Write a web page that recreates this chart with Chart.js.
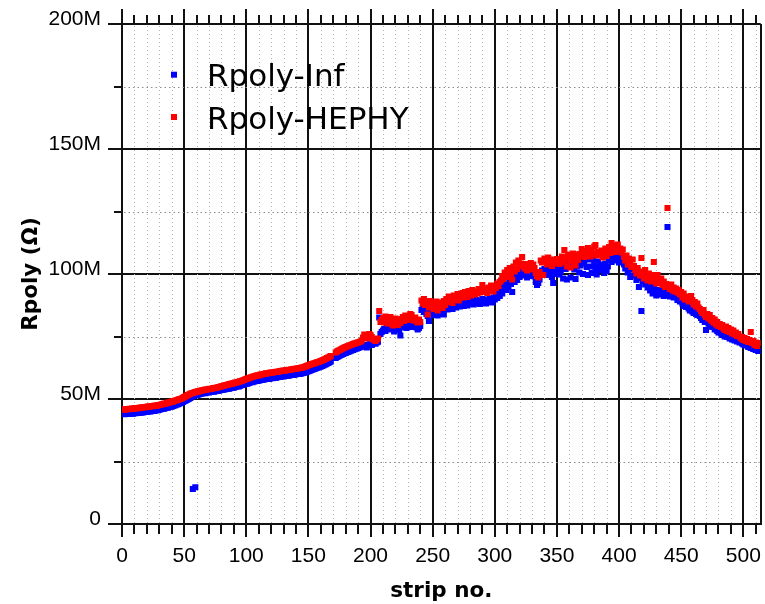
<!DOCTYPE html>
<html>
<head>
<meta charset="utf-8">
<title>Rpoly per strip</title>
<script src="https://cdn.jsdelivr.net/npm/chart.js"></script>
<style>
  html, body { margin: 0; padding: 0; background: #fff; }
  #wrap { width: 765px; height: 604px; }
</style>
</head>
<body>
<div id="wrap"><canvas id="rpolyChart" width="765" height="604"></canvas></div>
<script>
// strip numbers along the sensor
const strips = Array.from({ length: 512 }, (_, i) => i + 1);

// poly resistor values in MOhm, one per strip (null = strip not measured)
const rpolyInf = [
  44.1, 43.9, 44.0, 44.2, 44.0, 44.1, 44.3, 44.2, 44.1, 44.4, 44.3, 44.5, 44.4, 44.6, 44.5, 44.7,
  44.6, 44.8, 44.9, 44.8, 45.0, 45.1, 45.0, 45.2, 45.3, 45.2, 45.4, 45.6, 45.5, 45.7, 45.9, 46.0,
  46.2, 46.1, 46.4, 46.6, 46.5, 46.8, 47.0, 46.9, 47.2, 47.4, 47.5, 47.8, 47.9, 48.1, 48.4, 48.6,
  48.8, 49.1, 49.3, 49.6, 49.9, 50.1, 50.4, 50.8, 14.0, 51.2, 14.7, 51.5, 51.7, 51.9, 52.0, 52.2,
  52.3, 52.4, 52.3, 52.6, 52.7, 52.6, 52.8, 52.9, 53.0, 52.9, 53.1, 53.3, 53.2, 53.4, 53.5, 53.6,
  53.7, 53.8, 53.9, 54.0, 54.2, 54.1, 54.3, 54.5, 54.6, 54.5, 54.8, 55.0, 55.1, 55.0, 55.3, 55.5,
  55.6, 55.8, 56.0, 56.2, 56.1, 56.4, 56.6, 56.8, 56.7, 57.0, 57.1, 57.3, 57.2, 57.4, 57.5, 57.7,
  57.6, 57.8, 57.9, 58.0, 58.1, 58.0, 58.2, 58.4, 58.3, 58.5, 58.6, 58.5, 58.7, 58.8, 58.9, 59.0,
  59.1, 59.0, 59.2, 59.3, 59.4, 59.3, 59.5, 59.6, 59.7, 59.6, 59.8, 59.9, 60.0, 60.1, 60.0, 60.2,
  60.3, 60.4, 60.6, 60.7, 60.9, 61.1, 61.3, 61.5, 61.7, 61.9, 62.0, 62.3, 62.5, 62.6, 62.8, 63.0,
  63.2, 63.4, 63.7, 63.9, 64.2, 64.4, 64.7, 65.0, null, null, null, 66.4, 66.8, 67.0, 67.3, 67.6,
  67.8, 68.0, 68.3, 68.4, 68.7, 68.9, 69.0, 69.3, 69.5, 69.6, 69.9, 70.1, 70.2, 70.4, 70.6, 70.8,
  71.0, 71.3, 71.6, 71.2, 70.6, 71.4, 71.8, 72.0, 71.6, 72.2, 72.4, 72.1, 72.6, 72.9, 82.6, 76.0,
  76.8, 77.4, 78.0, 77.2, 78.4, 79.0, 77.8, 78.6, 79.2, 78.0, 77.0, 78.8, 79.4, 78.2, 77.6, 75.4,
  78.6, 79.2, 80.0, 79.0, 78.4, 79.6, 80.2, 79.4, 78.8, 79.8, 80.4, 79.0, 78.6, 77.8, 78.4, 79.2,
  85.6, 86.2, 84.8, 85.4, 84.0, 83.2, 81.2, 84.6, 85.8, 84.2, 83.6, 85.0, 84.4, 83.4, 85.2, 84.6,
  84.0, 85.6, 83.8, 86.2, 86.8, 85.8, 87.2, 86.4, 87.6, 86.0, 87.0, 88.0, 86.6, 87.4, 88.2, 87.0,
  87.8, 88.4, 87.2, 88.8, 88.0, 87.4, 89.0, 88.2, 88.6, 89.4, 87.8, 88.8, 89.6, 88.4, 89.0, 88.0,
  89.2, 90.0, 88.6, 89.4, 88.2, 89.8, 88.8, 90.2, 89.4, 88.6, 90.6, 89.8, 91.4, 90.4, 92.0, 91.2,
  93.0, 92.2, 94.4, 95.6, 93.6, 96.2, 94.8, 97.4, 96.0, 92.8, 98.2, 96.8, 99.4, 97.6, 100.2, 98.8,
  101.2, 100.0, 102.0, 99.4, 100.8, 98.6, 100.4, 99.8, 101.0, 99.2, 100.6, 99.0, 96.8, 95.6, 96.4, 97.8,
  100.2, 101.4, 99.8, 102.0, 100.8, 99.6, 101.6, 100.4, 102.2, 98.8, 96.4, 100.0, 101.8, 100.6, 102.4, 99.8,
  101.0, 103.2, 98.2, 104.6, 102.0, 97.8, 105.4, 103.6, 98.6, 104.0, 106.2, 101.8, 98.0, 103.0, 105.0, 100.6,
  103.4, 105.2, 100.0, 104.2, 106.4, 102.8, 99.6, 105.8, 103.0, 100.4, 106.8, 104.4, 102.0, 99.8, 105.0, 103.6,
  101.6, 103.8, 102.6, 100.4, 104.2, 101.2, 103.0, 105.6, 107.2, 104.8, 106.6, 108.2, 105.4, 107.6, 106.0, 104.6,
  107.0, 105.2, 106.4, 103.8, 102.2, 104.6, 100.6, 103.4, 98.8, 101.8, 103.0, 99.4, 100.8, 97.6, 99.2, 94.8,
  98.4, 85.2, 97.2, 99.0, 95.8, 97.8, 94.6, 96.6, 93.4, 95.2, 92.2, 94.0, 92.8, 91.4, 93.6, 92.4,
  91.8, 93.2, 92.0, 91.2, 92.6, 91.6, 118.8, 92.2, 91.0, 92.4, 91.4, 90.6, 91.8, 90.8, 89.6, 90.2,
  89.0, 90.0, 88.2, 87.2, 88.6, 86.8, 87.8, 86.2, 85.4, 86.6, 85.0, 84.4, 85.8, 84.0, 83.6, 84.8,
  83.2, 82.4, 81.6, 82.8, 80.8, 77.6, 81.2, 80.2, 79.4, 80.6, 78.8, 79.6, 77.8, 78.6, 77.2, 76.6,
  77.4, 76.2, 75.6, 76.8, 75.0, 76.0, 74.8, 75.4, 74.2, 75.2, 73.8, 74.4, 73.4, 74.6, 73.0, 73.8,
  72.6, 73.4, 72.2, 71.8, 72.8, 71.4, 72.0, 70.8, 71.6, 70.4, 71.2, 70.0, 70.6, 69.6, 70.2, 69.2
];

const rpolyHephy = [
  45.9, 45.7, 45.8, 46.0, 45.9, 46.1, 46.0, 46.2, 46.1, 46.3, 46.2, 46.4, 46.3, 46.5, 46.6, 46.5,
  46.7, 46.8, 46.7, 46.9, 47.0, 46.9, 47.1, 47.2, 47.1, 47.3, 47.4, 47.3, 47.5, 47.6, 47.7, 47.9,
  48.0, 48.2, 48.1, 48.4, 48.6, 48.5, 48.8, 49.0, 48.9, 49.2, 49.4, 49.5, 49.7, 49.9, 50.0, 50.2,
  50.5, 50.8, 51.0, 51.3, 51.6, 51.8, 52.1, 52.3, 52.4, 52.6, 52.8, 52.9, 53.1, 53.0, 53.3, 53.4,
  53.5, 53.6, 53.8, 53.7, 53.9, 54.0, 54.1, 54.0, 54.3, 54.4, 54.5, 54.4, 54.7, 54.8, 54.9, 55.1,
  55.2, 55.3, 55.5, 55.6, 55.7, 55.9, 56.0, 56.2, 56.1, 56.4, 56.6, 56.5, 56.8, 56.9, 57.1, 57.2,
  57.4, 57.6, 57.8, 58.0, 58.2, 58.3, 58.5, 58.7, 58.9, 59.0, 59.2, 59.3, 59.5, 59.4, 59.7, 59.8,
  59.9, 60.0, 60.1, 60.3, 60.2, 60.4, 60.5, 60.6, 60.5, 60.7, 60.8, 60.9, 60.8, 61.0, 61.1, 61.2,
  61.3, 61.4, 61.3, 61.5, 61.6, 61.7, 61.6, 61.8, 61.9, 62.0, 62.1, 62.0, 62.2, 62.3, 62.4, 62.5,
  62.6, 62.7, 62.9, 63.1, 63.3, 63.5, 63.6, 63.9, 64.0, 64.2, 64.3, 64.5, 64.7, 64.8, 65.0, 65.2,
  65.4, 65.6, 65.9, 66.1, 66.4, 66.6, 66.9, 67.2, null, null, null, 68.6, 69.0, 69.3, 69.5, 69.8,
  70.1, 70.3, 70.6, 70.8, 71.0, 71.2, 71.4, 71.6, 71.8, 72.0, 72.2, 72.3, 72.5, 72.6, 72.8, 73.0,
  73.4, 74.6, 75.8, 75.0, 74.2, 75.4, 76.0, 75.6, 74.8, 74.0, 73.6, 73.2, 73.8, 74.2, 85.2, 80.8,
  81.6, 82.4, 80.6, 83.0, 82.0, 80.2, 81.4, 82.8, 80.0, 79.4, 81.2, 82.2, 80.8, 79.6, 81.8, 80.4,
  82.0, 82.8, 81.2, 83.4, 82.4, 81.6, 83.0, 84.0, 83.6, 82.2, 81.4, 82.6, 81.0, 80.6, 81.8, 80.8,
  89.4, 88.2, 90.0, 87.6, 88.8, 83.8, 86.6, 89.2, 87.2, 88.4, 86.0, 87.8, 89.0, 85.4, 88.6, 87.0,
  88.0, 86.4, 89.2, 87.6, 90.0, 88.8, 91.0, 89.6, 90.6, 88.4, 91.4, 89.8, 90.8, 92.0, 89.4, 90.4,
  91.2, 92.4, 90.6, 92.8, 91.6, 90.8, 93.2, 92.0, 91.4, 93.6, 92.6, 91.8, 93.0, 92.2, 94.0, 92.6,
  93.4, 95.6, 92.8, 94.2, 93.6, 92.4, 94.6, 93.2, 95.4, 94.0, 93.0, 95.0, 94.4, 96.2, 95.2, 96.8,
  97.4, 99.2, 98.0, 100.6, 99.4, 101.6, 98.8, 102.4, 100.2, 97.8, 103.0, 101.0, 104.6, 102.0, 105.4, 103.6,
  104.2, 106.8, 103.0, 102.2, 104.0, 101.4, 103.4, 102.6, 104.4, 101.8, 103.8, 102.4, 100.4, 99.2, 98.6, 100.8,
  105.4, 104.6, 99.6, 106.2, 105.0, 103.8, 106.6, 104.4, 105.8, 103.2, 104.2, 105.6, 104.8, 106.0, 105.2, 104.0,
  105.8, 107.0, 104.6, 109.6, 106.4, 103.0, 107.8, 105.2, 102.6, 106.8, 108.2, 104.8, 103.4, 107.4, 105.6, 108.0,
  107.6, 110.0, 108.4, 106.8, 109.2, 107.2, 110.4, 108.8, 107.0, 109.6, 108.0, 111.0, 111.6, 107.4, 109.0, 108.2,
  107.8, 109.4, 106.6, 108.6, 110.2, 107.2, 109.0, 110.8, 108.4, 112.4, 109.8, 111.4, 108.8, 110.6, 111.8, 109.4,
  110.2, 108.6, 109.8, 106.8, 105.4, 107.4, 103.8, 106.2, 104.6, 102.8, 105.8, 103.2, 101.6, 100.2, 102.4, 101.0,
  99.4, 106.4, 100.8, 98.2, 101.6, 99.0, 97.4, 100.2, 98.6, 97.0, 99.6, 104.8, 98.0, 96.2, 99.6, 97.2,
  96.4, 98.2, 95.6, 97.0, 94.8, 96.0, 126.4, 95.2, 94.0, 95.8, 93.4, 94.6, 93.0, 94.2, 92.6, 93.6,
  91.8, 92.8, 90.6, 92.2, 89.8, 91.0, 90.2, 89.0, 90.6, 91.2, 89.6, 87.8, 88.8, 87.0, 88.2, 86.6,
  86.0, 85.2, 84.4, 85.6, 83.6, 82.8, 84.0, 82.2, 83.6, 81.4, 82.4, 80.6, 81.8, 79.8, 80.8, 79.2,
  80.0, 78.8, 79.6, 78.2, 77.6, 79.0, 77.2, 78.4, 76.8, 77.8, 76.2, 77.4, 75.8, 76.6, 75.2, 76.0,
  75.0, 74.2, 74.8, 73.6, 74.4, 73.2, 74.0, 72.8, 73.6, 76.8, 72.4, 73.2, 71.6, 72.6, 71.2, 72.4
];

// axis ranges and tick labels
const xMax = 514;
const xTicks = [0, 50, 100, 150, 200, 250, 300, 350, 400, 450, 500];
const yTicks = [0, 50, 100, 150, 200];
const yTickLabels = ['0', '50M', '100M', '150M', '200M'];

const tickFont = { family: '"Liberation Sans", Arial, sans-serif', size: 21 };
const titleFont = { family: '"DejaVu Sans", Verdana, sans-serif', size: 21.5, weight: 'bold' };

function toPoints(values) {
  return strips.map((s, i) => ({ x: s, y: values[i] }));
}

function strokeLine(ctx, x1, y1, x2, y2) {
  ctx.beginPath();
  ctx.moveTo(x1, y1);
  ctx.lineTo(x2, y2);
  ctx.stroke();
}

// keep the plot box fixed: no extra room for labels hanging past the ends
function fixSize(prop, size) {
  return (scale) => {
    scale[prop] = size;
    scale.paddingTop = 0;
    scale.paddingBottom = 0;
    scale.paddingLeft = 0;
    scale.paddingRight = 0;
  };
}

// dotted minor grid plus the outside tick marks on top, bottom and left
const minorGrid = {
  id: 'minorGrid',
  beforeDatasetsDraw(chart) {
    const { ctx, chartArea: a, scales: { x, y } } = chart;
    ctx.save();
    ctx.lineWidth = 1;

    ctx.strokeStyle = '#b5b5b5';
    ctx.setLineDash([1, 3]);
    for (let s = 10; s < xMax; s += 10) {
      if (s % 50 === 0) continue;
      const px = Math.round(x.getPixelForValue(s)) + 0.5;
      strokeLine(ctx, px, a.top + 2, px, a.bottom - 1);
    }

    ctx.strokeStyle = '#8c8c8c';
    ctx.setLineDash([1.5, 3]);
    for (let v = 25; v < 200; v += 50) {
      const py = Math.round(y.getPixelForValue(v)) + 0.5;
      strokeLine(ctx, a.left + 2, py, a.right - 1, py);
    }

    ctx.setLineDash([]);
    ctx.strokeStyle = '#111';
    ctx.lineWidth = 2;
    for (let s = 0; s < xMax; s += 10) {
      const px = Math.round(x.getPixelForValue(s));
      const major = s % 50 === 0;
      strokeLine(ctx, px, a.top, px, a.top - (major ? 15 : 9));
      strokeLine(ctx, px, a.bottom, px, a.bottom + (major ? 13 : 10));
    }
    for (let v = 0; v <= 200; v += 25) {
      const py = Math.round(y.getPixelForValue(v));
      strokeLine(ctx, a.left, py, a.left - (v % 50 === 0 ? 14 : 8), py);
    }
    ctx.restore();
  }
};

// legend drawn inside the plot, upper left
const plotLegend = {
  id: 'plotLegend',
  afterDatasetsDraw(chart) {
    const { ctx, chartArea: a } = chart;
    ctx.save();
    ctx.font = '31px "DejaVu Sans", Verdana, sans-serif';
    ctx.textBaseline = 'alphabetic';
    ctx.textAlign = 'left';
    chart.data.datasets.forEach((ds, i) => {
      const cy = a.top + 50.7 + i * 42.3;
      ctx.fillStyle = ds.backgroundColor;
      ctx.fillRect(a.left + 49, cy - 3, 6, 6);
      ctx.fillStyle = '#000';
      ctx.fillText(ds.label, a.left + 85, cy + 11.5);
    });
    ctx.restore();
  }
};

const ctx = document.getElementById('rpolyChart').getContext('2d');
const rpolyChart = new Chart(ctx, {
  type: 'scatter',
  data: {
    datasets: [
      {
        label: 'Rpoly-Inf',
        data: toPoints(rpolyInf),
        backgroundColor: '#0000ff',
        borderWidth: 0,
        pointStyle: 'rect',
        pointRadius: 4.3,
        order: 1,
      },
      {
        label: 'Rpoly-HEPHY',
        data: toPoints(rpolyHephy),
        backgroundColor: '#ff0000',
        borderWidth: 0,
        pointStyle: 'rect',
        pointRadius: 4.3,
        order: 0,
      },
    ],
  },
  options: {
    responsive: false,
    animation: false,
    devicePixelRatio: 1,
    layout: { padding: { top: 24, right: 4, bottom: 0, left: 0 } },
    plugins: {
      legend: { display: false },
      tooltip: { enabled: false },
    },
    scales: {
      x: {
        type: 'linear',
        min: 0,
        max: xMax,
        afterBuildTicks: (scale) => {
          scale.ticks = xTicks.concat([xMax]).map((v) => ({ value: v }));
        },
        afterFit: fixSize('height', 80),
        ticks: {
          autoSkip: false,
          maxRotation: 0,
          padding: 20,
          color: '#000',
          font: tickFont,
          callback: (v) => (xTicks.includes(v) ? String(v) : ''),
        },
        grid: { color: '#111', lineWidth: 2, drawTicks: false },
        border: { color: '#111', width: 2 },
        title: {
          display: true,
          text: 'strip no.',
          color: '#000',
          font: titleFont,
          padding: { top: 0, bottom: 0 },
        },
      },
      y: {
        type: 'linear',
        min: 0,
        max: 200,
        afterBuildTicks: (scale) => {
          scale.ticks = yTicks.map((v) => ({ value: v }));
        },
        afterFit: fixSize('width', 122),
        ticks: {
          padding: 21,
          labelOffset: -5,
          color: '#000',
          font: tickFont,
          callback: (v) => yTickLabels[yTicks.indexOf(v)],
        },
        grid: { color: '#111', lineWidth: 2, drawTicks: false },
        border: { color: '#111', width: 2 },
        title: {
          display: true,
          text: 'Rpoly (Ω)',
          color: '#000',
          font: titleFont,
          padding: { top: 19, bottom: 0 },
        },
      },
    },
  },
  plugins: [minorGrid, plotLegend],
});
</script>
</body>
</html>
